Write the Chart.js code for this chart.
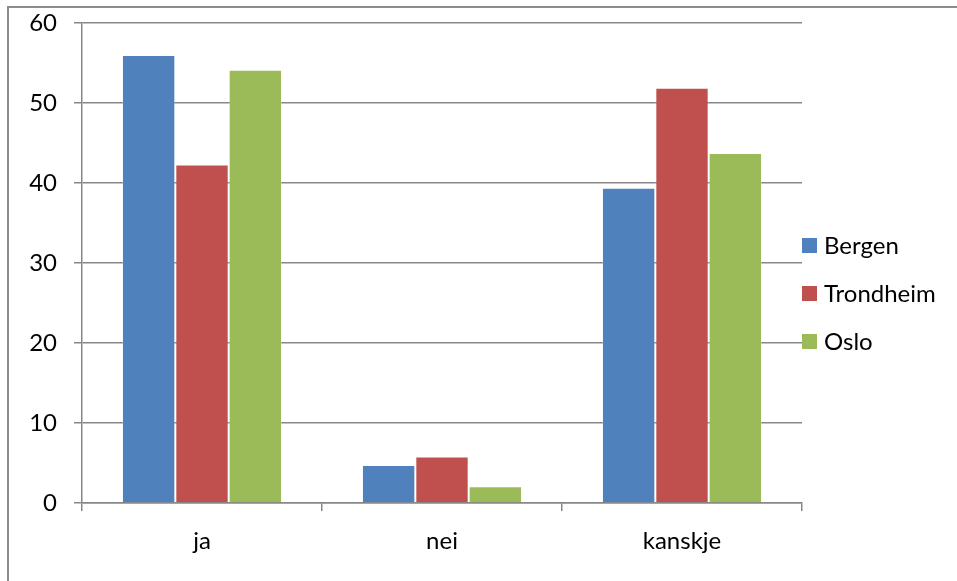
<!DOCTYPE html>
<html>
<head>
<meta charset="utf-8">
<script src="https://cdn.jsdelivr.net/npm/chart.js@4/dist/chart.umd.min.js"></script>
<style>
  html, body { margin: 0; padding: 0; background: #fff; }
  #frame {
    position: absolute; left: 7px; top: 6px; width: 980px; height: 600px;
    border-left: 2px solid #8c8c8c; border-top: 2px solid #8c8c8c;
  }
  #wrap { position: absolute; left: 0; top: 0; width: 957px; height: 581px; }
</style>
</head>
<body>
<div id="frame"></div>
<div id="wrap"><canvas id="chart" width="957" height="581"></canvas></div>
<script>
const categories = ['ja', 'nei', 'kanskje'];
const bergen = [56, 4.75, 39.4];
const trondheim = [42.3, 5.8, 51.9];
const oslo = [54.15, 2.1, 43.75];
const seriesNames = ['Bergen', 'Trondheim', 'Oslo'];
const colors = ['#4F81BD', '#C0504D', '#9BBB59'];
const yTicks = [0, 10, 20, 30, 40, 50, 60];

const FONT = 'Lato, "Open Sans", sans-serif';
const FONT_SIZE = 24;
const AXIS = '#878787';

// legend drawn beside the plot, one square + name per series
const sideLegend = {
  id: 'sideLegend',
  afterDraw(chart) {
    const ctx = chart.ctx;
    const x = chart.chartArea.right;
    ctx.save();
    ctx.font = FONT_SIZE + 'px ' + FONT;
    ctx.textBaseline = 'middle';
    chart.data.datasets.forEach((ds, i) => {
      const y = 246 + i * 48;
      ctx.fillStyle = ds.backgroundColor;
      ctx.fillRect(x, y - 8, 15, 15);
      ctx.fillStyle = '#000';
      ctx.fillText(ds.label, x + 22, y);
    });
    ctx.restore();
  }
};

const data = {
  labels: categories,
  datasets: [bergen, trondheim, oslo].map((vals, i) => ({
    label: seriesNames[i],
    data: vals,
    backgroundColor: colors[i],
    borderColor: 'rgba(255,255,255,0.25)',
    borderWidth: 1,
    categoryPercentage: 0.667,
    barPercentage: 1
  }))
};

new Chart(document.getElementById('chart'), {
  type: 'bar',
  data,
  options: {
    responsive: false,
    animation: false,
    layout: { padding: { left: 0, right: 155, top: 23, bottom: 0 } },
    plugins: { legend: { display: false }, tooltip: { enabled: false } },
    scales: {
      x: {
        afterFit(scale) { scale.height = 78; },
        grid: { offset: true, drawOnChartArea: false, drawTicks: true, tickLength: 8, color: AXIS, lineWidth: 1.5 },
        border: { color: AXIS, width: 1.5 },
        ticks: { color: '#000', font: { family: FONT, size: FONT_SIZE }, padding: 16 }
      },
      y: {
        min: 0, max: 60,
        afterFit(scale) {
          scale.width = 82;
          scale.paddingTop = 0;
          scale.paddingBottom = 0;
        },
        afterBuildTicks(scale) { scale.ticks = yTicks.map(v => ({ value: v })); },
        grid: { color: AXIS, lineWidth: 1.5, tickLength: 8 },
        border: { color: AXIS, width: 1.5 },
        ticks: { color: '#000', font: { family: FONT, size: FONT_SIZE }, padding: 17 }
      }
    }
  },
  plugins: [sideLegend]
});
</script>
</body>
</html>
